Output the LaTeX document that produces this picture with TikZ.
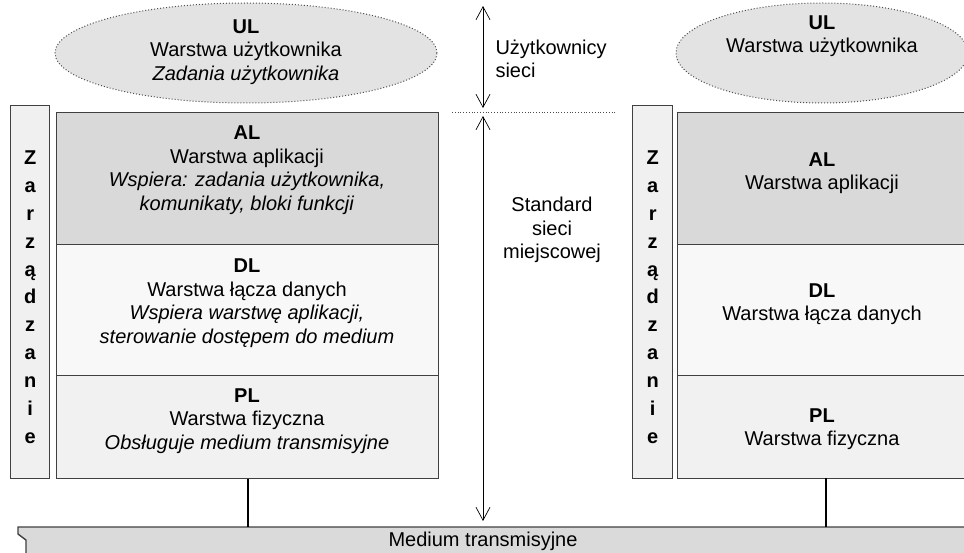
\documentclass[tikz,border=0pt]{standalone}
\usepackage{fontspec}
\setmainfont{Liberation Sans}
\usetikzlibrary{arrows.meta,positioning,shapes.geometric}
\definecolor{ulgray}{HTML}{E3E3E3}
\definecolor{algray}{HTML}{D9D9D9}
\definecolor{dlgray}{HTML}{F8F8F8}
\definecolor{plgray}{HTML}{F1F1F1}
\definecolor{mggray}{HTML}{F0F0F0}
\definecolor{medgray}{HTML}{DADADA}
\definecolor{edge}{HTML}{404040}

\begin{document}
\begin{tikzpicture}[x=1pt, y=-1pt,
        lay/.style={draw=edge, line width=1.4pt, anchor=north west, inner sep=0pt},
        txt/.style={align=center, font=\fontsize{20}{23.5}\selectfont},
        usr/.style={ellipse, draw=black!70, dotted, line width=1pt, fill=ulgray, inner sep=0pt},
        mgmt/.style={draw=edge, line width=1.4pt, fill=mggray, anchor=north west, inner sep=0pt,
            minimum width=39pt, minimum height=373pt},
        mgtxt/.style={align=center, font=\fontsize{20}{27.9}\selectfont\bfseries},
        dim/.style={{Straight Barb[length=13pt, width=14pt]}-{Straight Barb[length=13pt, width=14pt]}, line width=0.7pt},
        link/.style={line width=2pt}]
        \useasboundingbox (0,0) rectangle (964,553);
        % Medium
        \filldraw[fill=medgray, draw=edge, line width=1.4pt]
            (970,527) -- (18,527) -- (18,534) -- (26,540) -- (26,560) -- (970,560) -- cycle;
        \node[txt] (medium) at (483,541) {Medium transmisyjne};
        \coordinate (medtop) at (483,527);
        % Left stack
        \node[usr, minimum width=382pt, minimum height=100pt] (lUL) at (246,53) {};
        \node[txt] at (246,52) {\textbf{UL}\\Warstwa użytkownika\\\textit{Zadania użytkownika}};
        \node[mgmt] (lMg) at (10,105) {};
        \node[mgtxt] at ([yshift=-5pt]lMg.center) {Z\\a\\r\\z\\ą\\d\\z\\a\\n\\i\\e};
        \node[lay, fill=algray, minimum width=382pt, minimum height=132pt] (lAL) at (56,112) {};
        \node[lay, fill=dlgray, minimum width=382pt, minimum height=131pt] (lDL) at (56,244) {};
        \node[lay, fill=plgray, minimum width=382pt, minimum height=103pt] (lPL) at (56,375) {};
        \node[txt] at (247,170) {\textbf{AL}\\Warstwa aplikacji\\\textit{Wspiera: zadania użytkownika,}\\\textit{komunikaty, bloki funkcji}};
        \node[txt] at (247,303) {\textbf{DL}\\Warstwa łącza danych\\\textit{Wspiera warstwę aplikacji,}\\\textit{sterowanie dostępem do medium}};
        \node[txt] at (247,421) {\textbf{PL}\\Warstwa fizyczna\\\textit{Obsługuje medium transmisyjne}};
        \draw[link] (lPL.south) -- (lPL.south |- medtop);
        % Middle
        \coordinate (uTop) at (483,6);
        \coordinate (uBot) at (483,108);
        \coordinate (sTop) at (483,116);
        \coordinate (sBot) at (483,521);
        \coordinate (sepL) at (452,112);
        \coordinate (sepR) at (615,112);
        \draw[dim] (uTop) -- (uBot);
        \draw[dim] (sTop) -- (sBot);
        \draw[dotted, line width=0.8pt, black!70] (sepL) -- (sepR);
        \node[txt, align=left, anchor=west] (users) at (492,59) {Użytkownicy\\sieci};
        \node[txt] (std) at (552,230) {Standard\\sieci\\miejscowej};
        % Right stack
        \node[usr, minimum width=292pt, minimum height=100pt] (rUL) at (822,53) {};
        \node[txt] at (822,36) {\textbf{UL}\\Warstwa użytkownika};
        \node[mgmt, minimum width=40pt] (rMg) at (632,105) {};
        \node[mgtxt] at ([yshift=-5pt]rMg.center) {Z\\a\\r\\z\\ą\\d\\z\\a\\n\\i\\e};
        \node[lay, fill=algray, minimum width=290pt, minimum height=132pt] (rAL) at (677,112) {};
        \node[lay, fill=dlgray, minimum width=290pt, minimum height=131pt] (rDL) at (677,244) {};
        \node[lay, fill=plgray, minimum width=290pt, minimum height=103pt] (rPL) at (677,375) {};
        \node[txt] at (822,173) {\textbf{AL}\\Warstwa aplikacji};
        \node[txt] at (822,304) {\textbf{DL}\\Warstwa łącza danych};
        \node[txt] at (822,429) {\textbf{PL}\\Warstwa fizyczna};
        \coordinate (rLink) at (826,478);
        \draw[link] (rLink) -- (rLink |- medtop);
\end{tikzpicture}
\end{document}
